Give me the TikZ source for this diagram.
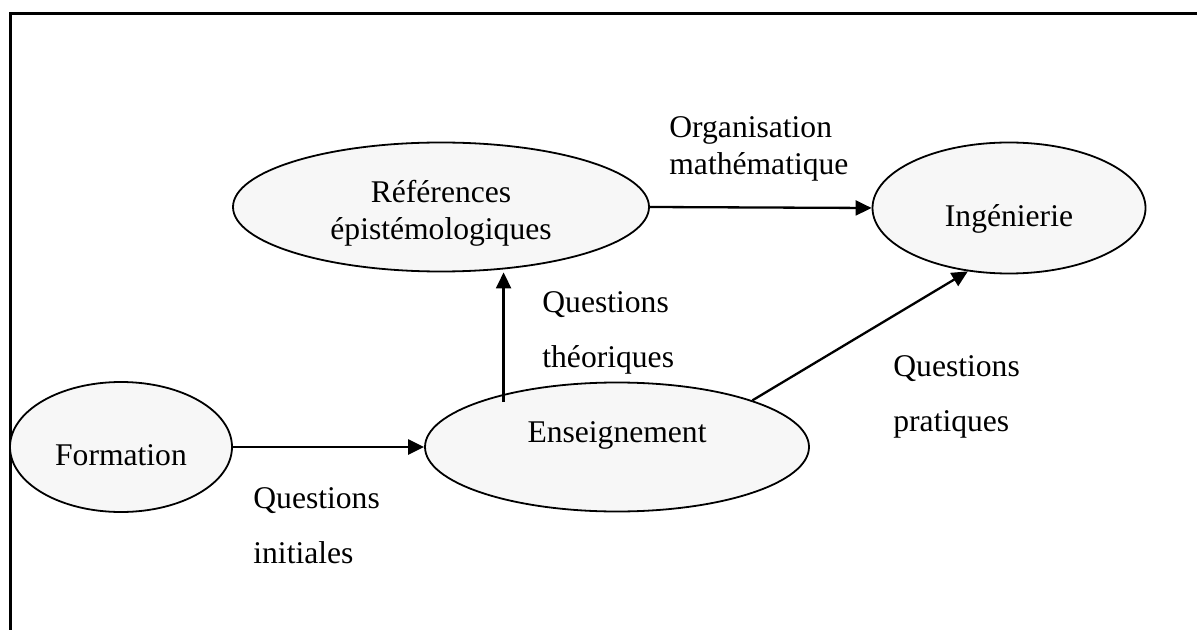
\documentclass[tikz,border=0pt]{standalone}
\usepackage{fontspec}
\setmainfont{Liberation Serif}
\usetikzlibrary{arrows.meta, shapes.geometric}
\definecolor{ovalgray}{HTML}{F7F7F7}

\begin{document}
\begin{tikzpicture}[
            x=0.5pt, y=-0.5pt,
            oval/.style={ellipse, draw, line width=0.9pt, fill=ovalgray, inner sep=0pt, align=center, font=\fontsize{15.8}{18.5}\selectfont},
            note/.style={anchor=base west, inner sep=0pt, align=left, font=\fontsize{15.8}{27.5}\selectfont},
            arrow/.style={-{Triangle[length=8pt, width=7.5pt]}, line width=1.15pt}
        ]
        \useasboundingbox (0,0) rectangle (1197,630);

        % Frame: only its top and left edges are in view
        \draw[line width=1.5pt] (10,630) -- (10,14) -- (1197,14);

        % Ovals
        \node[oval, minimum width=111pt, minimum height=65pt, text height=18pt, text depth=0pt] (form) at (121,447) {Formation};
        \node[oval, minimum width=192pt, minimum height=64.5pt, text height=11pt, text depth=16pt] (ens) at (617,447) {Enseignement};
        \node[oval, minimum width=208pt, minimum height=64.5pt, text height=36pt, text depth=3pt] (ref) at (441,207) {Références\\épistémologiques};
        \node[oval, minimum width=136.5pt, minimum height=65.5pt, text height=22pt, text depth=3pt] (ing) at (1009,208) {Ingénierie};

        % Arrows
        \draw[arrow] (form.east) -- (ens.west);
        \draw[arrow] ([yshift=-4pt]ens.155) -- (ens.155 |- ref.south);
        \draw[arrow] (ens.19) -- (ing.237);
        \draw[arrow] (ref.east) -- (ing.west);

        % Labels (placed by the baseline of their last line)
        \node[note, font=\fontsize{15.8}{18.5}\selectfont] (orgLbl) at (669,175) {Organisation\\mathématique};
        \node[note] (theoLbl) at (542,367) {Questions\\théoriques};
        \node[note] (pratLbl) at (893,431) {Questions\\pratiques};
        \node[note] (initLbl) at (253,563) {Questions\\initiales};

    \end{tikzpicture}
\end{document}
